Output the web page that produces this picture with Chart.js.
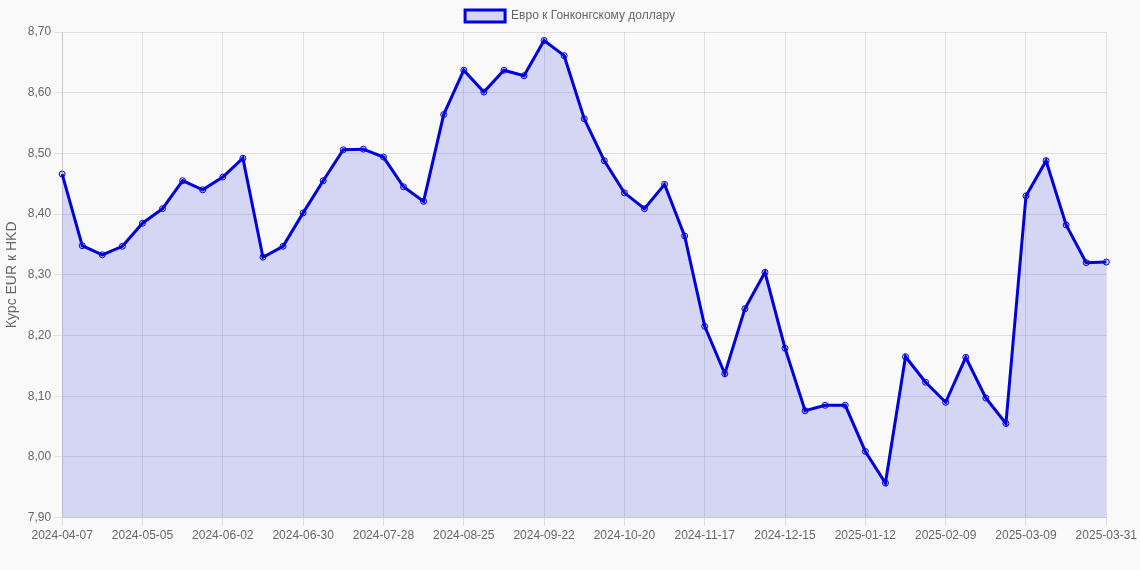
<!DOCTYPE html>
<html>
<head>
<meta charset="utf-8">
<script src="https://cdn.jsdelivr.net/npm/chart.js@4"></script>
<style>
html,body{margin:0;padding:0;background:#f9f9f9;}
#wrap{width:1140px;height:570px;}
</style>
</head>
<body>
<div id="wrap"><canvas id="c"></canvas></div>
<script>
const labels = [
 "2024-04-07","2024-04-14","2024-04-21","2024-04-28","2024-05-05","2024-05-12","2024-05-19","2024-05-26",
 "2024-06-02","2024-06-09","2024-06-16","2024-06-23","2024-06-30","2024-07-07","2024-07-14","2024-07-21",
 "2024-07-28","2024-08-04","2024-08-11","2024-08-18","2024-08-25","2024-09-01","2024-09-08","2024-09-15",
 "2024-09-22","2024-09-29","2024-10-06","2024-10-13","2024-10-20","2024-10-27","2024-11-03","2024-11-10",
 "2024-11-17","2024-11-24","2024-12-01","2024-12-08","2024-12-15","2024-12-22","2024-12-29","2025-01-05",
 "2025-01-12","2025-01-19","2025-01-26","2025-02-02","2025-02-09","2025-02-16","2025-02-23","2025-03-02",
 "2025-03-09","2025-03-16","2025-03-23","2025-03-30","2025-03-31"
];
const eurHkd = [
 8.466,8.348,8.333,8.347,8.385,8.409,8.455,8.440,
 8.461,8.492,8.329,8.347,8.402,8.455,8.506,8.507,
 8.494,8.445,8.421,8.564,8.637,8.601,8.637,8.628,
 8.686,8.661,8.557,8.488,8.435,8.409,8.449,8.364,
 8.215,8.137,8.244,8.304,8.179,8.076,8.085,8.085,
 8.009,7.957,8.165,8.123,8.090,8.164,8.097,8.055,
 8.430,8.488,8.382,8.320,8.321
];
const seriesName = "Евро к Гонконгскому доллару";
const yTitle = "Курс EUR к HKD";
const yMin = 7.9, yMax = 8.7, yStep = 0.1;

Chart.defaults.font.family = "'Liberation Sans', Arial, sans-serif";
Chart.defaults.color = "#666";

new Chart(document.getElementById('c'), {
  type: 'line',
  data: {
    labels: labels,
    datasets: [{
      label: seriesName,
      data: eurHkd,
      borderColor: '#0000dd',
      backgroundColor: 'rgba(0,0,220,0.14)',
      borderWidth: 3,
      pointRadius: 3,
      pointBorderWidth: 1,
      pointBackgroundColor: 'rgba(0,0,220,0.14)',
      pointBorderColor: '#0000dd',
      fill: true,
      tension: 0
    }]
  },
  options: {
    responsive: true,
    maintainAspectRatio: false,
    animation: false,
    layout: { padding: { bottom: 24 } },
    plugins: {
      legend: { display: true, labels: { boxWidth: 40, font: { size: 12 } } },
      tooltip: { enabled: false }
    },
    scales: {
      x: {
        ticks: { maxRotation: 0, autoSkip: true, font: { size: 12 } },
        grid: { color: 'rgba(0,0,0,0.1)' }
      },
      y: {
        min: yMin, max: yMax,
        ticks: {
          stepSize: yStep,
          font: { size: 12 },
          callback: v => v.toFixed(2).replace('.', ',')
        },
        title: { display: true, text: yTitle, font: { size: 14 } },
        grid: { color: 'rgba(0,0,0,0.1)' }
      }
    }
  }
});
</script>
</body>
</html>
